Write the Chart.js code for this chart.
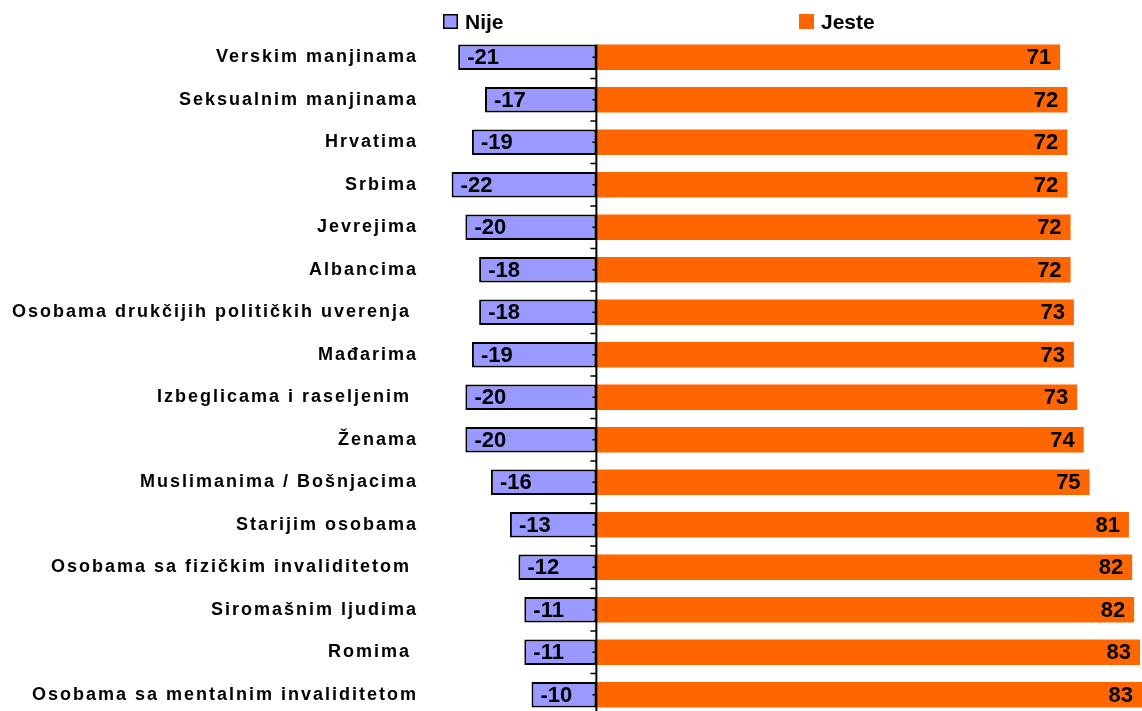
<!DOCTYPE html>
<html>
<head>
<meta charset="utf-8">
<script src="https://cdn.jsdelivr.net/npm/chart.js@4/dist/chart.umd.min.js"></script>
<style>
	html,body{margin:0;padding:0;background:#fff;overflow:hidden;}
	canvas{display:block;}
</style>
</head>
<body>
<canvas id="chartBar" width="1142" height="716"></canvas>
<script>
var categories=["Verskim manjinama","Seksualnim manjinama","Hrvatima","Srbima","Jevrejima","Albancima",
	"Osobama drukčijih političkih uverenja ","Mađarima","Izbeglicama i raseljenim ","Ženama",
	"Muslimanima / Bošnjacima","Starijim osobama","Osobama sa fizičkim invaliditetom ","Siromašnim ljudima",
	"Romima ","Osobama sa mentalnim invaliditetom"];
var nijeValues=[-21.1,-17.0,-19.0,-22.1,-20.0,-17.9,-17.9,-19.0,-20.0,-20.0,-16.1,-13.2,-11.9,-11.0,-11.0,-9.9];
var jesteValues=[70.8,71.9,71.9,71.9,72.4,72.4,72.9,72.9,73.4,74.4,75.3,81.3,81.8,82.1,83.0,83.3];
var seriesNames=["Nije","Jeste"];
var seriesColors=["#9999FF","#FF6600"];

Chart.defaults.font.family="'Liberation Sans', Arial, sans-serif";
Chart.defaults.color="#000";

//PLUGIN TO DRAW THE ZERO AXIS, THE VALUE LABELS AND THE LEGEND
var labelsPlugin={
	id:"labelsPlugin",
	afterLayout:function(chart){
		var yScale=chart.scales.y;
		if (yScale.wrapped){return;}
		var drawLabels=yScale.drawLabels;
		yScale.drawLabels=function(area){
			var ctx=this.ctx;
			ctx.save();
			ctx.letterSpacing="2px";
			drawLabels.call(this,area);
			ctx.restore();
		};
		yScale.wrapped=true;
	},
	afterDatasetsDraw:function(chart){
		var ctx=chart.ctx;
		var xScale=chart.scales.x;
		var yScale=chart.scales.y;
		var zero=xScale.getPixelForValue(0);
		var first=chart.getDatasetMeta(0).data[0];

		//axis line with ticks
		ctx.save();
		ctx.strokeStyle="#000";
		ctx.lineWidth=2;
		ctx.beginPath();
		ctx.moveTo(zero,first.y-first.height/2);
		ctx.lineTo(zero,chart.height);
		ctx.stroke();
		ctx.lineWidth=1.5;
		for (var i=0;i<categories.length;i++){
			var yc=yScale.getPixelForValue(i);
			var half=(yScale.getPixelForValue(1)-yScale.getPixelForValue(0))/2;
			ctx.beginPath();
			ctx.moveTo(zero-4,yc);
			ctx.lineTo(zero,yc);
			ctx.moveTo(zero-6,yc+half);
			ctx.lineTo(zero,yc+half);
			ctx.stroke();
		}

		//value labels
		ctx.font="bold 22px 'Liberation Sans', Arial, sans-serif";
		ctx.fillStyle="#000";
		ctx.textBaseline="middle";
		chart.data.datasets.forEach(function(ds,d){
			chart.getDatasetMeta(d).data.forEach(function(bar,k){
				var txt=String(Math.round(ds.data[k]));
				if (d===0){
					ctx.textAlign="left";
					ctx.fillText(txt,bar.x+9,bar.y+1);
				}else{
					ctx.textAlign="right";
					ctx.fillText(txt,bar.x-9,bar.y+1);
				}
			});
		});
		ctx.restore();
	},
	afterDraw:function(chart){
		var ctx=chart.ctx;
		var spots=[443,799];
		ctx.save();
		ctx.font="bold 21px 'Liberation Sans', Arial, sans-serif";
		ctx.textBaseline="alphabetic";
		ctx.textAlign="left";
		seriesNames.forEach(function(name,i){
			ctx.fillStyle=seriesColors[i];
			ctx.fillRect(spots[i],14,15,15);
			if (i===0){
				ctx.strokeStyle="#000";
				ctx.lineWidth=1.5;
				ctx.strokeRect(spots[i]+0.75,14.75,13.5,13.5);
			}
			ctx.fillStyle="#000";
			ctx.fillText(name,spots[i]+22,29);
		});
		ctx.restore();
	}
};

var ctx=document.getElementById("chartBar");
var myBarChart=new Chart(ctx,{
	type:"bar",
	data:{
		labels:categories,
		datasets:[
			{label:seriesNames[0],data:nijeValues,backgroundColor:seriesColors[0],borderColor:"#000",borderWidth:2,borderSkipped:false},
			{label:seriesNames[1],data:jesteValues,backgroundColor:seriesColors[1],borderWidth:0}
		]
	},
	options:{
		indexAxis:"y",
		responsive:false,
		animation:false,
		devicePixelRatio:1,
		barPercentage:0.6,
		categoryPercentage:1,
		layout:{padding:{top:36,bottom:0,left:0,right:0}},
		plugins:{legend:{display:false},tooltip:{enabled:false}},
		scales:{
			x:{stacked:true,display:false,min:-22.5,max:83.3},
			y:{
				stacked:true,
				grid:{display:false},
				border:{display:false},
				ticks:{padding:23,font:{size:18,weight:"bold"},color:"#000"},
				afterFit:function(scale){
					scale.width=449;
					scale.paddingTop=0;
					scale.paddingBottom=0;
				}
			}
		}
	},
	plugins:[labelsPlugin]
});
</script>
</body>
</html>
